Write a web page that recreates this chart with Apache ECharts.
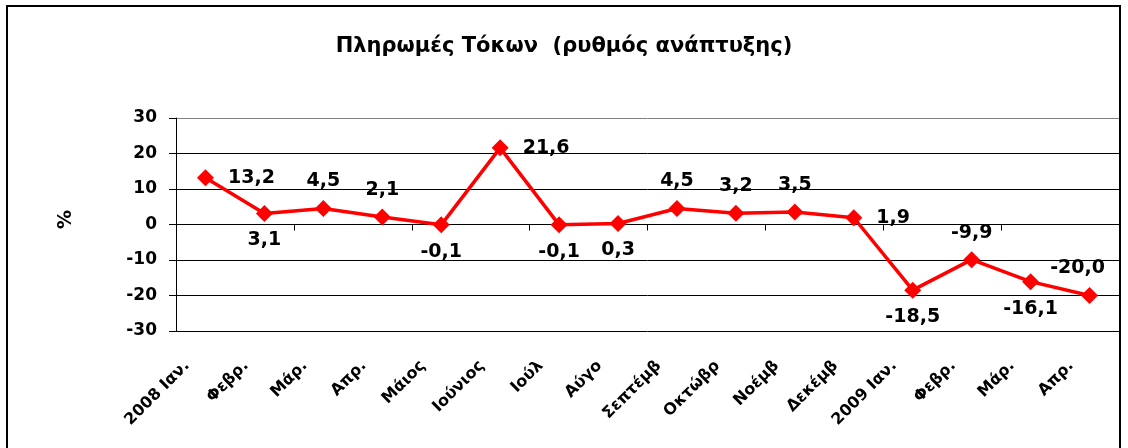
<!DOCTYPE html>
<html>
<head>
<meta charset="utf-8">
<script src="https://cdn.jsdelivr.net/npm/echarts@6/dist/echarts.min.js"></script>
<style>
  html, body { margin: 0; padding: 0; background: #fff; }
  #chart { width: 1128px; height: 448px; }
</style>
</head>
<body>
<div id="chart"></div>
<script>
// months (labels are cut off in the original, kept as shown)
var months = ['2008 Ιαν.', 'Φεβρ.', 'Μάρ.', 'Απρ.', 'Μάιος', 'Ιούνιος', 'Ιούλ', 'Αύγο',
  'Σεπτέμβ', 'Οκτώβρ', 'Νοέμβ', 'Δεκέμβ', '2009 Ιαν.', 'Φεβρ.', 'Μάρ.', 'Απρ.']
// growth rate %
var growth = [13.2, 3.1, 4.5, 2.1, -0.1, 21.6, -0.1, 0.3, 4.5, 3.2, 3.5, 1.9, -18.5, -9.9, -16.1, -20.0]
var yTicks = [-30, -20, -10, 0, 10, 20, 30]

// where each value label sits
var labelSide = ['right', 'bottom', 'top', 'top', 'bottom', 'right', 'bottom', 'bottom',
  'top', 'top', 'top', 'right', 'bottom', 'top', 'bottom', 'top']

var font = 'DejaVu Sans'
var myChart = echarts.init(document.getElementById('chart'))

var points = growth.map(function (v, i) {
  var lbl = { position: labelSide[i], distance: 9 }
  if (labelSide[i] === 'right') lbl.distance = 14
  if (i === 15) lbl.offset = [-12, 0]
  return { value: v, label: lbl }
})

var option = {
  animation: false,
  backgroundColor: '#fff',
  title: {
    text: 'Πληρωμές Τόκων  (ρυθμός ανάπτυξης)',
    left: 'center',
    top: 31,
    textStyle: { fontFamily: font, fontWeight: 'bold', fontSize: 21, color: '#000' }
  },
  graphic: [{
    type: 'rect',
    shape: { x: 7, y: 6, width: 1113, height: 460 },
    style: { fill: 'none', stroke: '#000', lineWidth: 2 },
    silent: true
  }, {
    type: 'text',
    left: 57,
    top: 210,
    rotation: Math.PI / 2,
    style: { text: '%', fontFamily: font, fontWeight: 'bold', fontSize: 19, fill: '#000' }
  }],
  grid: { left: 176, right: 9, top: 118, bottom: 117, containLabel: false },
  xAxis: [{
    type: 'category',
    data: months,
    boundaryGap: true,
    axisLine: { onZero: true, lineStyle: { color: '#000', width: 1 } },
    axisTick: { show: true, length: 6, inside: false, lineStyle: { color: '#000' } },
    axisLabel: { show: false }
  }, {
    type: 'category',
    data: months,
    position: 'bottom',
    boundaryGap: true,
    axisLine: { show: false },
    axisTick: { show: false },
    axisLabel: {
      interval: 0,
      rotate: 45,
      margin: 14,
      padding: [0, 26, 0, 0],
      fontFamily: font,
      fontWeight: 'bold',
      fontSize: 16,
      color: '#000'
    }
  }],
  yAxis: {
    type: 'value',
    min: -30,
    max: 30,
    interval: 10,
    axisLine: { show: true, lineStyle: { color: '#000' } },
    axisTick: { show: true, length: 7, lineStyle: { color: '#000' } },
    axisLabel: {
      margin: 19,
      fontFamily: font,
      fontWeight: 'bold',
      fontSize: 17,
      color: '#000',
      formatter: function (v) { return yTicks.indexOf(v) >= 0 ? String(v) : '' }
    },
    splitLine: {
      show: true,
      lineStyle: { color: ['#000', '#000', '#000', '#000', '#000', '#000', '#808080'], width: 1 }
    }
  },
  series: [{
    name: 'growth',
    type: 'line',
    xAxisIndex: 0,
    data: points,
    symbol: 'diamond',
    symbolSize: 17,
    itemStyle: { color: '#ff0000' },
    lineStyle: { color: '#ff0000', width: 3.5 },
    label: {
      show: true,
      fontFamily: font,
      fontWeight: 'bold',
      fontSize: 19,
      color: '#000',
      formatter: function (p) { return p.value.toFixed(1).replace('.', ',') }
    }
  }]
}
myChart.setOption(option)
</script>
</body>
</html>
